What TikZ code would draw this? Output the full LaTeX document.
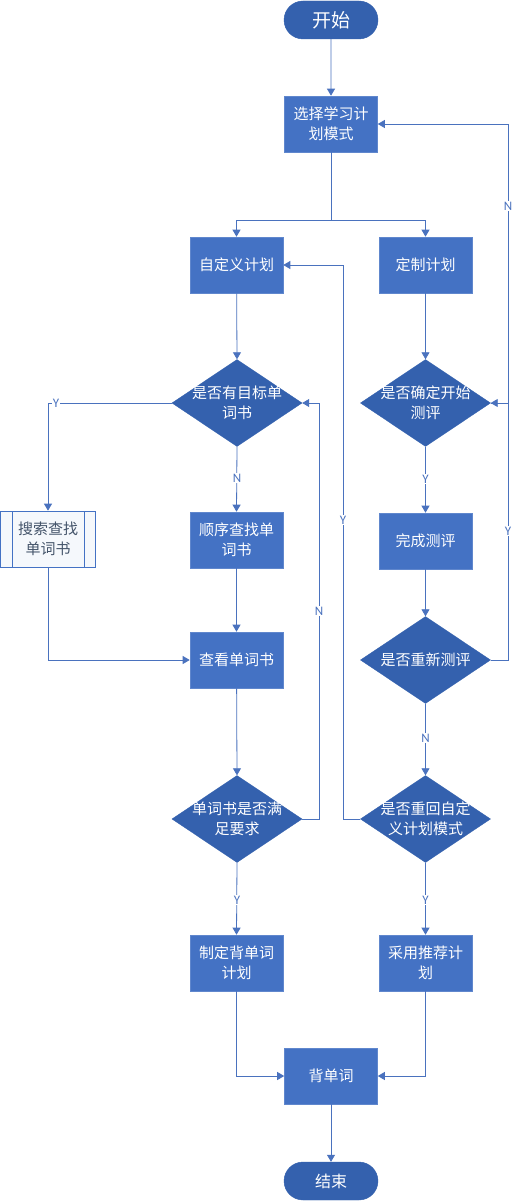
\documentclass[tikz,border=0pt]{standalone}
\usepackage{fontspec}
\setmainfont{Noto Sans CJK SC}
\newfontfamily\latinfont{Carlito}
\usetikzlibrary{shapes.geometric,arrows.meta}
\definecolor{boxblue}{HTML}{4472C4}
\definecolor{darkblue}{HTML}{3461AE}
\definecolor{lineblue}{HTML}{4A72BE}
\definecolor{ppfill}{HTML}{F5F8FC}
\definecolor{pptext}{HTML}{44546A}
\tikzset{
  every picture/.style={x=1pt,y=-1pt},
  box/.style={rectangle,fill=boxblue,draw=boxblue!85!white,line width=0.6pt,minimum width=93pt,minimum height=56pt,inner sep=0pt,text=white,align=center,font=\fontsize{15pt}{20pt}\selectfont},
  term/.style={rounded rectangle,fill=darkblue,draw=darkblue,minimum width=94pt,minimum height=38pt,inner sep=0pt,text=white},
  dia/.style={diamond,fill=darkblue,draw=darkblue,minimum width=130pt,minimum height=87pt,inner sep=0pt},
  dtext/.style={text=white,align=center,font=\fontsize{15pt}{20pt}\selectfont,inner sep=0pt},
  pp/.style={rectangle,fill=ppfill,draw=boxblue,line width=0.7pt,minimum width=95pt,minimum height=56pt,inner sep=0pt,text=pptext,align=center,font=\fontsize{15pt}{20pt}\selectfont},
  conn/.style={draw=lineblue,line width=0.8pt,-{Triangle[length=7pt,width=8pt]}},
  plain/.style={draw=lineblue,line width=0.8pt},
  yn/.style={fill=white,inner sep=1pt,text=lineblue,font=\latinfont\fontsize{13pt}{13pt}\selectfont}
}
\usetikzlibrary{shapes.misc}
\begin{document}
\begin{tikzpicture}
\useasboundingbox[fill=white] (0,0) rectangle (522,1201);
% nodes
\node[term,font=\fontsize{19pt}{19pt}\selectfont] (start) at (331,20) {开始};
\node[box] (sel) at (331,124) {选择学习计\\划模式};
\node[box] (zdy) at (236.5,265) {自定义计划};
\node[box] (dz) at (425.5,265) {定制计划};
\node[dia,label={[dtext]center:是否有目标单\\词书}] (d1) at (237,403) {};
\node[dia,label={[dtext]center:是否确定开始\\测评}] (d2) at (425.5,403) {};
\node[pp] (ss) at (48,539) {搜索查找\\单词书};
\draw[draw=boxblue,line width=0.7pt] (12,511) -- (12,567) (84,511) -- (84,567);
\node[box] (sx) at (236.5,540) {顺序查找单\\词书};
\node[box] (wc) at (425.5,541) {完成测评};
\node[box] (ck) at (236.5,660) {查看单词书};
\node[dia,label={[dtext]center:是否重新测评}] (d4) at (425.5,660) {};
\node[dia,label={[dtext]center:单词书是否满\\足要求}] (d3) at (237,819) {};
\node[dia,label={[dtext]center:是否重回自定\\义计划模式}] (d5) at (425.5,819) {};
\node[box] (zd) at (236.5,963) {制定背单词\\计划};
\node[box] (cy) at (425.5,963) {采用推荐计\\划};
\node[box] (bdc) at (331,1076) {背单词};
\node[term,font=\fontsize{16pt}{16pt}\selectfont] (end) at (331,1181) {结束};
% helper coordinates
\coordinate (split) at (331,220);
\coordinate (r3) at (319,819);
\coordinate (r2) at (508,403);
\coordinate (r4) at (508,660);
\coordinate (l5) at (343,819);
% connectors
\draw[conn] (start) -- (sel);
\draw[plain] (sel.south) -- (split);
\draw[conn] (split) -| (zdy.north);
\draw[conn] (split) -| (dz.north);
\draw[conn] (zdy) -- (d1.north);
\draw[conn] (dz) -- (d2.north);
\draw[conn] (d1.west) -| (ss.north);
\node[yn] (ly1) at (56,403) {Y};
\draw[conn] (d1.south) -- (sx.north);
\node[yn] (ln1) at (237,478) {N};
\draw[conn] (sx) -- (ck);
\draw[conn] (ss.south) |- (ck.west);
\draw[conn] (ck) -- (d3.north);
\draw[conn] (d3.east) -- (r3) |- (d1.east);
\node[yn] (ln3) at (319,611) {N};
\draw[conn] (d3.south) -- (zd.north);
\node[yn] (ly3) at (237,900) {Y};
\draw[conn] (zd.south) |- (bdc.west);
\draw[conn] (d2.south) -- (wc.north);
\node[yn] (ly2) at (425.5,479) {Y};
\draw[conn] (wc) -- (d4.north);
\draw[conn] (d4.east) -- (r4) |- (d2.east);
\node[yn] (ly4) at (508,531) {Y};
\draw[conn] (d2.east) -- (r2) |- (sel.east);
\node[yn] (ln2) at (508,206) {N};
\draw[conn] (d4.south) -- (d5.north);
\node[yn] (ln4) at (425.5,738) {N};
\draw[conn] (d5.west) -- (l5) |- (zdy.east);
\node[yn] (ly5) at (343,520) {Y};
\draw[conn] (d5.south) -- (cy.north);
\node[yn] (ly6) at (425.5,900) {Y};
\draw[conn] (cy.south) |- (bdc.east);
\draw[conn] (bdc) -- (end);
\end{tikzpicture}
\end{document}
